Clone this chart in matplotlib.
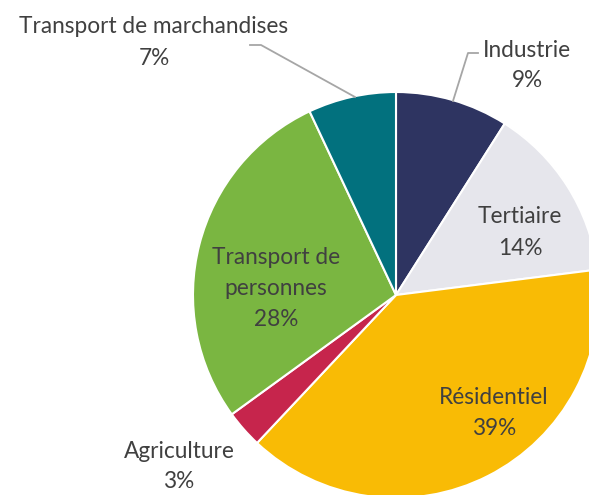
import matplotlib.pyplot as plt
from matplotlib.lines import Line2D

# energy consumption shares by sector
categories = ['Industrie', 'Tertiaire', 'Résidentiel', 'Agriculture',
              'Transport de personnes', 'Transport de marchandises']
shares = [9, 14, 39, 3, 28, 7]
colors = ['#2e3461', '#e6e6ec', '#f9bb05', '#c6254c', '#7ab641', '#02717e']

W, H = 589, 495

# label lines: (text lines, centre x in px, baselines in px from top)
label_layout = {
    'Industrie': (['Industrie', '9%'], 527, [57, 87]),
    'Tertiaire': (['Tertiaire', '14%'], 520, [223, 255]),
    'Résidentiel': (['Résidentiel', '39%'], 494, [404, 435]),
    'Agriculture': (['Agriculture', '3%'], 179, [458, 488]),
    'Transport de personnes': (['Transport de', 'personnes', '28%'], 276, [264, 295, 326]),
    'Transport de marchandises': (['Transport de marchandises', '7%'], 154, [33, 65]),
}
leaders = {
    'Industrie': [(478, 53), (468, 53), (453, 101)],
    'Transport de marchandises': [(250, 45), (261, 45), (355, 97)],
}

plt.rcParams['font.family'] = ['Lato', 'DejaVu Sans']

fig = plt.figure(figsize=(W / 100, H / 100), dpi=100)
# pie centre at (396, 295) px, radius 203 px
ax = fig.add_axes([193 / W, (H - 498) / H, 406 / W, 406 / H])
ax.pie(shares, colors=colors, startangle=90, counterclock=False,
       wedgeprops=dict(edgecolor='white', linewidth=1.5))
ax.set_xlim(-1, 1)
ax.set_ylim(-1, 1)
ax.set_aspect('equal')
ax.axis('off')

for cat in categories:
    lines, cx, baselines = label_layout[cat]
    for txt, by in zip(lines, baselines):
        fig.text(cx / W, 1 - by / H, txt, ha='center', va='baseline',
                 fontsize=16.3, color='#404040')

for cat, pts in leaders.items():
    xs = [p[0] / W for p in pts]
    ys = [1 - p[1] / H for p in pts]
    fig.add_artist(Line2D(xs, ys, transform=fig.transFigure,
                          color='#a6a6a6', linewidth=1.3))

fig.savefig('out.png', dpi=100)
